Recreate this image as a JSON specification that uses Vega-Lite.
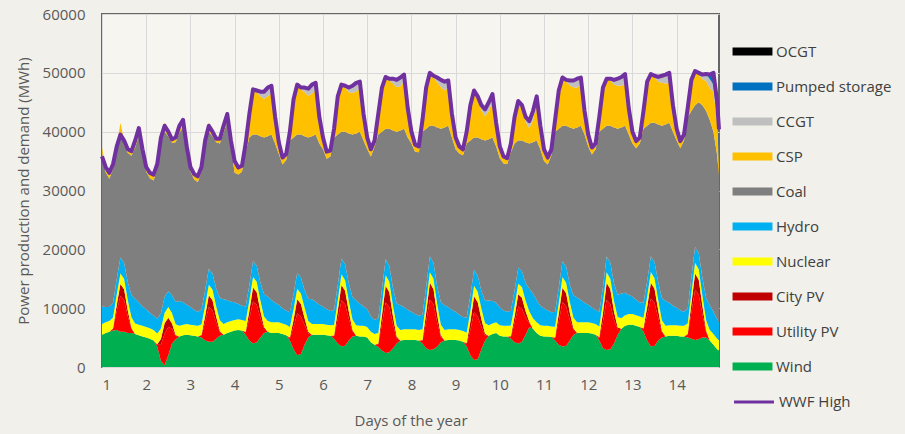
{
  "$schema": "https://vega.github.io/schema/vega-lite/v6.json",
  "width": 617,
  "height": 353,
  "autosize": {"type": "none"},
  "padding": {"left": 102, "top": 14, "right": 186, "bottom": 67},
  "background": "#f1f0ea",
  "config": {
    "font": "Open Sans",
    "view": {"stroke": "#666666", "strokeWidth": 2, "fill": "#f6f5f0"},
    "axis": {
      "labelColor": "#595959",
      "titleColor": "#595959",
      "labelFontSize": 15,
      "titleFontSize": 15,
      "titleFontWeight": "normal",
      "gridColor": "#d9d9d9",
      "gridWidth": 1,
      "ticks": false,
      "domain": false
    },
    "legend": {
      "labelColor": "#404040",
      "labelFontSize": 15,
      "padding": 0,
      "title": null
    }
  },
  "datasets": {
    "gen": [
      {"h":0,"wind":5500,"upv":0,"cpv":0,"nuc":1800,"hyd":3000,"coal":26200,"csp":800,"ccgt":0,"ps":0,"ocgt":0,"dem":35800},
      {"h":2,"wind":5800,"upv":0,"cpv":0,"nuc":1800,"hyd":2600,"coal":22900,"csp":900,"ccgt":0,"ps":0,"ocgt":0,"dem":34000},
      {"h":4,"wind":6000,"upv":0,"cpv":0,"nuc":1800,"hyd":2400,"coal":21800,"csp":1000,"ccgt":0,"ps":0,"ocgt":0,"dem":33000},
      {"h":6,"wind":6200,"upv":300,"cpv":100,"nuc":1800,"hyd":2500,"coal":22800,"csp":800,"ccgt":0,"ps":0,"ocgt":0,"dem":34500},
      {"h":8,"wind":6300,"upv":3200,"cpv":1050,"nuc":1800,"hyd":2600,"coal":21950,"csp":600,"ccgt":0,"ps":0,"ocgt":0,"dem":37500},
      {"h":10,"wind":6000,"upv":6100,"cpv":2000,"nuc":1800,"hyd":2700,"coal":21400,"csp":1500,"ccgt":0,"ps":0,"ocgt":0,"dem":39500},
      {"h":12,"wind":6000,"upv":5400,"cpv":1800,"nuc":1800,"hyd":2700,"coal":20000,"csp":800,"ccgt":0,"ps":0,"ocgt":0,"dem":38500},
      {"h":14,"wind":5800,"upv":2850,"cpv":950,"nuc":1800,"hyd":3000,"coal":22000,"csp":600,"ccgt":0,"ps":0,"ocgt":0,"dem":37000},
      {"h":16,"wind":5800,"upv":640,"cpv":210,"nuc":1800,"hyd":3800,"coal":23650,"csp":800,"ccgt":0,"ps":0,"ocgt":0,"dem":36700},
      {"h":18,"wind":5600,"upv":0,"cpv":0,"nuc":1800,"hyd":4200,"coal":25700,"csp":1200,"ccgt":0,"ps":0,"ocgt":0,"dem":38500},
      {"h":20,"wind":5400,"upv":0,"cpv":0,"nuc":1800,"hyd":3800,"coal":28300,"csp":1000,"ccgt":300,"ps":0,"ocgt":0,"dem":40600},
      {"h":22,"wind":5200,"upv":0,"cpv":0,"nuc":1800,"hyd":3300,"coal":25900,"csp":800,"ccgt":0,"ps":0,"ocgt":0,"dem":37000},

      {"h":24,"wind":5000,"upv":0,"cpv":0,"nuc":1800,"hyd":3000,"coal":23400,"csp":800,"ccgt":0,"ps":0,"ocgt":0,"dem":34000},
      {"h":26,"wind":4800,"upv":0,"cpv":0,"nuc":1800,"hyd":2600,"coal":22900,"csp":900,"ccgt":0,"ps":0,"ocgt":0,"dem":33000},
      {"h":28,"wind":4500,"upv":0,"cpv":0,"nuc":1800,"hyd":2400,"coal":23000,"csp":1000,"ccgt":0,"ps":0,"ocgt":0,"dem":32700},
      {"h":30,"wind":3500,"upv":280,"cpv":100,"nuc":1800,"hyd":2500,"coal":25520,"csp":800,"ccgt":0,"ps":0,"ocgt":0,"dem":34500},
      {"h":32,"wind":1000,"upv":2800,"cpv":950,"nuc":1800,"hyd":2600,"coal":29250,"csp":600,"ccgt":0,"ps":0,"ocgt":0,"dem":39000},
      {"h":34,"wind":300,"upv":5350,"cpv":1780,"nuc":1800,"hyd":2700,"coal":28070,"csp":1500,"ccgt":0,"ps":0,"ocgt":0,"dem":41000},
      {"h":36,"wind":2000,"upv":4780,"cpv":1600,"nuc":1800,"hyd":2700,"coal":26320,"csp":800,"ccgt":0,"ps":0,"ocgt":0,"dem":40000},
      {"h":38,"wind":4000,"upv":2530,"cpv":850,"nuc":1800,"hyd":3000,"coal":25920,"csp":600,"ccgt":0,"ps":0,"ocgt":0,"dem":38700},
      {"h":40,"wind":4700,"upv":560,"cpv":190,"nuc":1800,"hyd":3800,"coal":27150,"csp":800,"ccgt":0,"ps":0,"ocgt":0,"dem":39000},
      {"h":42,"wind":5200,"upv":0,"cpv":0,"nuc":1800,"hyd":4200,"coal":28600,"csp":1200,"ccgt":0,"ps":0,"ocgt":0,"dem":41000},
      {"h":44,"wind":5400,"upv":0,"cpv":0,"nuc":1800,"hyd":3800,"coal":29700,"csp":1000,"ccgt":300,"ps":0,"ocgt":0,"dem":42000},
      {"h":46,"wind":5500,"upv":0,"cpv":0,"nuc":1800,"hyd":3300,"coal":26100,"csp":800,"ccgt":0,"ps":0,"ocgt":0,"dem":37500},

      {"h":48,"wind":5400,"upv":0,"cpv":0,"nuc":1800,"hyd":3000,"coal":23000,"csp":800,"ccgt":0,"ps":0,"ocgt":0,"dem":34000},
      {"h":50,"wind":5300,"upv":0,"cpv":0,"nuc":1800,"hyd":2600,"coal":22200,"csp":900,"ccgt":0,"ps":0,"ocgt":0,"dem":32800},
      {"h":52,"wind":5200,"upv":0,"cpv":0,"nuc":1800,"hyd":2400,"coal":22000,"csp":1000,"ccgt":0,"ps":0,"ocgt":0,"dem":32400},
      {"h":54,"wind":5000,"upv":320,"cpv":100,"nuc":1800,"hyd":2500,"coal":23480,"csp":800,"ccgt":0,"ps":0,"ocgt":0,"dem":34000},
      {"h":56,"wind":4500,"upv":3110,"cpv":1040,"nuc":1800,"hyd":2600,"coal":24850,"csp":600,"ccgt":0,"ps":0,"ocgt":0,"dem":38500},
      {"h":58,"wind":4300,"upv":5920,"cpv":1970,"nuc":1800,"hyd":2700,"coal":23310,"csp":1500,"ccgt":0,"ps":0,"ocgt":0,"dem":41000},
      {"h":60,"wind":4300,"upv":5300,"cpv":1760,"nuc":1800,"hyd":2700,"coal":23340,"csp":800,"ccgt":0,"ps":0,"ocgt":0,"dem":40000},
      {"h":62,"wind":4800,"upv":2800,"cpv":940,"nuc":1800,"hyd":3000,"coal":24860,"csp":600,"ccgt":0,"ps":0,"ocgt":0,"dem":38800},
      {"h":64,"wind":5300,"upv":620,"cpv":210,"nuc":1800,"hyd":3800,"coal":26270,"csp":800,"ccgt":0,"ps":0,"ocgt":0,"dem":38800},
      {"h":66,"wind":5500,"upv":0,"cpv":0,"nuc":1800,"hyd":4200,"coal":28300,"csp":1200,"ccgt":0,"ps":0,"ocgt":0,"dem":41000},
      {"h":68,"wind":5800,"upv":0,"cpv":0,"nuc":1800,"hyd":3800,"coal":30300,"csp":1000,"ccgt":300,"ps":0,"ocgt":0,"dem":43000},
      {"h":70,"wind":6000,"upv":0,"cpv":0,"nuc":1800,"hyd":3300,"coal":26600,"csp":800,"ccgt":0,"ps":0,"ocgt":0,"dem":38500},

      {"h":72,"wind":6200,"upv":0,"cpv":0,"nuc":1800,"hyd":3000,"coal":22000,"csp":2000,"ccgt":0,"ps":0,"ocgt":0,"dem":35000},
      {"h":74,"wind":6300,"upv":0,"cpv":0,"nuc":1800,"hyd":2600,"coal":22000,"csp":1200,"ccgt":0,"ps":0,"ocgt":0,"dem":33900},
      {"h":76,"wind":6200,"upv":0,"cpv":0,"nuc":1800,"hyd":2400,"coal":22800,"csp":1000,"ccgt":0,"ps":0,"ocgt":0,"dem":34200},
      {"h":78,"wind":5500,"upv":380,"cpv":120,"nuc":1800,"hyd":2500,"coal":26200,"csp":1500,"ccgt":0,"ps":0,"ocgt":0,"dem":38000},
      {"h":80,"wind":4500,"upv":3750,"cpv":1250,"nuc":1800,"hyd":2600,"coal":25100,"csp":4000,"ccgt":0,"ps":0,"ocgt":0,"dem":43000},
      {"h":82,"wind":4000,"upv":7130,"cpv":2370,"nuc":1800,"hyd":2700,"coal":21500,"csp":7700,"ccgt":0,"ps":0,"ocgt":0,"dem":47200},
      {"h":84,"wind":4200,"upv":6380,"cpv":2120,"nuc":1800,"hyd":2700,"coal":22300,"csp":7200,"ccgt":300,"ps":0,"ocgt":0,"dem":47000},
      {"h":86,"wind":5000,"upv":3380,"cpv":1120,"nuc":1800,"hyd":3000,"coal":24900,"csp":6800,"ccgt":800,"ps":0,"ocgt":0,"dem":46800},
      {"h":88,"wind":5800,"upv":750,"cpv":250,"nuc":1800,"hyd":3800,"coal":26600,"csp":6600,"ccgt":1200,"ps":0,"ocgt":0,"dem":46800},
      {"h":90,"wind":6000,"upv":0,"cpv":0,"nuc":1800,"hyd":4200,"coal":27200,"csp":6800,"ccgt":1500,"ps":0,"ocgt":0,"dem":47500},
      {"h":92,"wind":5800,"upv":0,"cpv":0,"nuc":1800,"hyd":3800,"coal":28100,"csp":7100,"ccgt":1200,"ps":0,"ocgt":0,"dem":47800},
      {"h":94,"wind":5800,"upv":0,"cpv":0,"nuc":1800,"hyd":3300,"coal":27100,"csp":4200,"ccgt":300,"ps":0,"ocgt":0,"dem":42500},

      {"h":96,"wind":5800,"upv":0,"cpv":0,"nuc":1800,"hyd":3000,"coal":25600,"csp":2000,"ccgt":0,"ps":0,"ocgt":0,"dem":38200},
      {"h":98,"wind":5600,"upv":0,"cpv":0,"nuc":1800,"hyd":2600,"coal":24400,"csp":1200,"ccgt":0,"ps":0,"ocgt":0,"dem":35600},
      {"h":100,"wind":5400,"upv":0,"cpv":0,"nuc":1800,"hyd":2400,"coal":25600,"csp":1000,"ccgt":0,"ps":0,"ocgt":0,"dem":36200},
      {"h":102,"wind":4500,"upv":380,"cpv":120,"nuc":1800,"hyd":2500,"coal":29200,"csp":1500,"ccgt":0,"ps":0,"ocgt":0,"dem":40000},
      {"h":104,"wind":3000,"upv":3750,"cpv":1250,"nuc":1800,"hyd":2600,"coal":26600,"csp":6500,"ccgt":0,"ps":0,"ocgt":0,"dem":45500},
      {"h":106,"wind":2000,"upv":7130,"cpv":2370,"nuc":1800,"hyd":2700,"coal":23500,"csp":8500,"ccgt":0,"ps":0,"ocgt":0,"dem":48000},
      {"h":108,"wind":2200,"upv":6380,"cpv":2120,"nuc":1800,"hyd":2700,"coal":24300,"csp":7700,"ccgt":300,"ps":0,"ocgt":0,"dem":47500},
      {"h":110,"wind":3800,"upv":3380,"cpv":1120,"nuc":1800,"hyd":3000,"coal":26100,"csp":7500,"ccgt":800,"ps":0,"ocgt":0,"dem":47500},
      {"h":112,"wind":5000,"upv":750,"cpv":250,"nuc":1800,"hyd":3800,"coal":27400,"csp":7100,"ccgt":1200,"ps":0,"ocgt":0,"dem":47300},
      {"h":114,"wind":5500,"upv":0,"cpv":0,"nuc":1800,"hyd":4200,"coal":27700,"csp":7300,"ccgt":1500,"ps":0,"ocgt":0,"dem":48000},
      {"h":116,"wind":5500,"upv":0,"cpv":0,"nuc":1800,"hyd":3800,"coal":28400,"csp":7600,"ccgt":1200,"ps":0,"ocgt":0,"dem":48300},
      {"h":118,"wind":5500,"upv":0,"cpv":0,"nuc":1800,"hyd":3300,"coal":27400,"csp":4200,"ccgt":300,"ps":0,"ocgt":0,"dem":42500},

      {"h":120,"wind":5500,"upv":0,"cpv":0,"nuc":1800,"hyd":3000,"coal":26700,"csp":2000,"ccgt":0,"ps":0,"ocgt":0,"dem":39000},
      {"h":122,"wind":5400,"upv":0,"cpv":0,"nuc":1800,"hyd":2600,"coal":25600,"csp":1200,"ccgt":0,"ps":0,"ocgt":0,"dem":36600},
      {"h":124,"wind":5300,"upv":0,"cpv":0,"nuc":1800,"hyd":2400,"coal":26300,"csp":1000,"ccgt":0,"ps":0,"ocgt":0,"dem":36800},
      {"h":126,"wind":4800,"upv":410,"cpv":140,"nuc":1800,"hyd":2500,"coal":29350,"csp":1500,"ccgt":0,"ps":0,"ocgt":0,"dem":40500},
      {"h":128,"wind":4000,"upv":4130,"cpv":1370,"nuc":1800,"hyd":2600,"coal":25600,"csp":6500,"ccgt":0,"ps":0,"ocgt":0,"dem":46000},
      {"h":130,"wind":3500,"upv":7840,"cpv":2610,"nuc":1800,"hyd":2700,"coal":21550,"csp":8000,"ccgt":0,"ps":0,"ocgt":0,"dem":48000},
      {"h":132,"wind":3600,"upv":7010,"cpv":2340,"nuc":1800,"hyd":2700,"coal":22550,"csp":7500,"ccgt":300,"ps":0,"ocgt":0,"dem":47800},
      {"h":134,"wind":4500,"upv":3710,"cpv":1240,"nuc":1800,"hyd":3000,"coal":25450,"csp":7000,"ccgt":800,"ps":0,"ocgt":0,"dem":47500},
      {"h":136,"wind":5200,"upv":830,"cpv":270,"nuc":1800,"hyd":3800,"coal":27600,"csp":7100,"ccgt":1200,"ps":0,"ocgt":0,"dem":47800},
      {"h":138,"wind":5300,"upv":0,"cpv":0,"nuc":1800,"hyd":4200,"coal":28400,"csp":7100,"ccgt":1500,"ps":0,"ocgt":0,"dem":48300},
      {"h":140,"wind":5200,"upv":0,"cpv":0,"nuc":1800,"hyd":3800,"coal":29200,"csp":7300,"ccgt":1200,"ps":0,"ocgt":0,"dem":48500},
      {"h":142,"wind":5200,"upv":0,"cpv":0,"nuc":1800,"hyd":3300,"coal":28200,"csp":4200,"ccgt":300,"ps":0,"ocgt":0,"dem":43000},

      {"h":144,"wind":5000,"upv":0,"cpv":0,"nuc":1800,"hyd":3000,"coal":27200,"csp":2000,"ccgt":0,"ps":0,"ocgt":0,"dem":39000},
      {"h":146,"wind":4200,"upv":0,"cpv":0,"nuc":1800,"hyd":2600,"coal":27200,"csp":1200,"ccgt":0,"ps":0,"ocgt":0,"dem":37000},
      {"h":148,"wind":3800,"upv":0,"cpv":0,"nuc":1800,"hyd":2400,"coal":29500,"csp":1000,"ccgt":0,"ps":0,"ocgt":0,"dem":38500},
      {"h":150,"wind":3400,"upv":450,"cpv":150,"nuc":1800,"hyd":2500,"coal":31200,"csp":3500,"ccgt":0,"ps":0,"ocgt":0,"dem":43000},
      {"h":152,"wind":2800,"upv":4500,"cpv":1500,"nuc":1800,"hyd":2600,"coal":26800,"csp":7500,"ccgt":0,"ps":0,"ocgt":0,"dem":47500},
      {"h":154,"wind":2400,"upv":8550,"cpv":2850,"nuc":1800,"hyd":2700,"coal":22200,"csp":8800,"ccgt":0,"ps":0,"ocgt":0,"dem":49300},
      {"h":156,"wind":2500,"upv":7650,"cpv":2550,"nuc":1800,"hyd":2700,"coal":23300,"csp":8200,"ccgt":300,"ps":0,"ocgt":0,"dem":49000},
      {"h":158,"wind":3200,"upv":4050,"cpv":1350,"nuc":1800,"hyd":3000,"coal":26800,"csp":8000,"ccgt":800,"ps":0,"ocgt":0,"dem":49000},
      {"h":160,"wind":4000,"upv":900,"cpv":300,"nuc":1800,"hyd":3800,"coal":29200,"csp":7600,"ccgt":1200,"ps":0,"ocgt":0,"dem":48800},
      {"h":162,"wind":4500,"upv":0,"cpv":0,"nuc":1800,"hyd":4200,"coal":29700,"csp":7500,"ccgt":1500,"ps":0,"ocgt":0,"dem":49200},
      {"h":164,"wind":4600,"upv":0,"cpv":0,"nuc":1800,"hyd":3800,"coal":30300,"csp":8000,"ccgt":1200,"ps":0,"ocgt":0,"dem":49700},
      {"h":166,"wind":4600,"upv":0,"cpv":0,"nuc":1800,"hyd":3300,"coal":29300,"csp":4700,"ccgt":300,"ps":0,"ocgt":0,"dem":44000},

      {"h":168,"wind":4600,"upv":0,"cpv":0,"nuc":1800,"hyd":3000,"coal":28600,"csp":2000,"ccgt":0,"ps":0,"ocgt":0,"dem":40000},
      {"h":170,"wind":4600,"upv":0,"cpv":0,"nuc":1800,"hyd":2600,"coal":27600,"csp":1200,"ccgt":0,"ps":0,"ocgt":0,"dem":37800},
      {"h":172,"wind":4500,"upv":0,"cpv":0,"nuc":1800,"hyd":2400,"coal":27800,"csp":1000,"ccgt":0,"ps":0,"ocgt":0,"dem":37500},
      {"h":174,"wind":4000,"upv":450,"cpv":150,"nuc":1800,"hyd":2500,"coal":31100,"csp":2000,"ccgt":0,"ps":0,"ocgt":0,"dem":42000},
      {"h":176,"wind":3200,"upv":4500,"cpv":1500,"nuc":1800,"hyd":2600,"coal":26900,"csp":7000,"ccgt":0,"ps":0,"ocgt":0,"dem":47500},
      {"h":178,"wind":2900,"upv":8550,"cpv":2850,"nuc":1800,"hyd":2700,"coal":22200,"csp":9000,"ccgt":0,"ps":0,"ocgt":0,"dem":50000},
      {"h":180,"wind":3000,"upv":7650,"cpv":2550,"nuc":1800,"hyd":2700,"coal":23300,"csp":8200,"ccgt":300,"ps":0,"ocgt":0,"dem":49500},
      {"h":182,"wind":3500,"upv":4050,"cpv":1350,"nuc":1800,"hyd":3000,"coal":27000,"csp":7700,"ccgt":800,"ps":0,"ocgt":0,"dem":49200},
      {"h":184,"wind":4200,"upv":900,"cpv":300,"nuc":1800,"hyd":3800,"coal":29500,"csp":7100,"ccgt":1200,"ps":0,"ocgt":0,"dem":48800},
      {"h":186,"wind":4500,"upv":0,"cpv":0,"nuc":1800,"hyd":4200,"coal":30200,"csp":6300,"ccgt":1500,"ps":0,"ocgt":0,"dem":48500},
      {"h":188,"wind":4600,"upv":0,"cpv":0,"nuc":1800,"hyd":3800,"coal":30800,"csp":6500,"ccgt":1200,"ps":0,"ocgt":0,"dem":48700},
      {"h":190,"wind":4600,"upv":0,"cpv":0,"nuc":1800,"hyd":3300,"coal":29300,"csp":3700,"ccgt":300,"ps":0,"ocgt":0,"dem":43000},

      {"h":192,"wind":4600,"upv":0,"cpv":0,"nuc":1800,"hyd":3000,"coal":27600,"csp":2000,"ccgt":0,"ps":0,"ocgt":0,"dem":39000},
      {"h":194,"wind":4500,"upv":0,"cpv":0,"nuc":1800,"hyd":2600,"coal":27400,"csp":1200,"ccgt":0,"ps":0,"ocgt":0,"dem":37500},
      {"h":196,"wind":4300,"upv":0,"cpv":0,"nuc":1800,"hyd":2400,"coal":27500,"csp":1000,"ccgt":0,"ps":0,"ocgt":0,"dem":37000},
      {"h":198,"wind":3500,"upv":430,"cpv":140,"nuc":1800,"hyd":2500,"coal":29630,"csp":2000,"ccgt":0,"ps":0,"ocgt":0,"dem":40000},
      {"h":200,"wind":2000,"upv":4280,"cpv":1420,"nuc":1800,"hyd":2600,"coal":26400,"csp":6000,"ccgt":0,"ps":0,"ocgt":0,"dem":44500},
      {"h":202,"wind":1200,"upv":8120,"cpv":2710,"nuc":1800,"hyd":2700,"coal":22470,"csp":8000,"ccgt":0,"ps":0,"ocgt":0,"dem":47000},
      {"h":204,"wind":1300,"upv":7270,"cpv":2420,"nuc":1800,"hyd":2700,"coal":23510,"csp":6700,"ccgt":300,"ps":0,"ocgt":0,"dem":46000},
      {"h":206,"wind":3000,"upv":3850,"cpv":1280,"nuc":1800,"hyd":3000,"coal":25770,"csp":5000,"ccgt":800,"ps":0,"ocgt":0,"dem":44500},
      {"h":208,"wind":4500,"upv":860,"cpv":280,"nuc":1800,"hyd":3800,"coal":27260,"csp":4100,"ccgt":1200,"ps":0,"ocgt":0,"dem":43800},
      {"h":210,"wind":5300,"upv":0,"cpv":0,"nuc":1800,"hyd":4200,"coal":27400,"csp":4800,"ccgt":1500,"ps":0,"ocgt":0,"dem":45000},
      {"h":212,"wind":5600,"upv":0,"cpv":0,"nuc":1800,"hyd":3800,"coal":27800,"csp":6200,"ccgt":1200,"ps":0,"ocgt":0,"dem":46400},
      {"h":214,"wind":5800,"upv":0,"cpv":0,"nuc":1800,"hyd":3300,"coal":26600,"csp":3700,"ccgt":300,"ps":0,"ocgt":0,"dem":41500},

      {"h":216,"wind":5300,"upv":0,"cpv":0,"nuc":1800,"hyd":3000,"coal":25400,"csp":2000,"ccgt":0,"ps":0,"ocgt":0,"dem":37500},
      {"h":218,"wind":5200,"upv":0,"cpv":0,"nuc":1800,"hyd":2600,"coal":25000,"csp":1200,"ccgt":0,"ps":0,"ocgt":0,"dem":35800},
      {"h":220,"wind":5200,"upv":0,"cpv":0,"nuc":1800,"hyd":2400,"coal":25100,"csp":1000,"ccgt":0,"ps":0,"ocgt":0,"dem":35500},
      {"h":222,"wind":4800,"upv":330,"cpv":110,"nuc":1800,"hyd":2500,"coal":26960,"csp":1500,"ccgt":0,"ps":0,"ocgt":0,"dem":38000},
      {"h":224,"wind":4200,"upv":3300,"cpv":1100,"nuc":1800,"hyd":2600,"coal":25000,"csp":4500,"ccgt":0,"ps":0,"ocgt":0,"dem":42500},
      {"h":226,"wind":4000,"upv":6270,"cpv":2090,"nuc":1800,"hyd":2700,"coal":21640,"csp":6700,"ccgt":0,"ps":0,"ocgt":0,"dem":45200},
      {"h":228,"wind":4300,"upv":5610,"cpv":1870,"nuc":1800,"hyd":2700,"coal":22220,"csp":5700,"ccgt":300,"ps":0,"ocgt":0,"dem":44500},
      {"h":230,"wind":5500,"upv":2970,"cpv":990,"nuc":1800,"hyd":3000,"coal":23940,"csp":3500,"ccgt":800,"ps":0,"ocgt":0,"dem":42500},
      {"h":232,"wind":6800,"upv":660,"cpv":220,"nuc":1800,"hyd":3800,"coal":24720,"csp":2600,"ccgt":1200,"ps":0,"ocgt":0,"dem":41800},
      {"h":234,"wind":6500,"upv":0,"cpv":0,"nuc":1800,"hyd":4200,"coal":25700,"csp":3800,"ccgt":1500,"ps":0,"ocgt":0,"dem":43500},
      {"h":236,"wind":5800,"upv":0,"cpv":0,"nuc":1800,"hyd":3800,"coal":27100,"csp":6300,"ccgt":1200,"ps":0,"ocgt":0,"dem":46000},
      {"h":238,"wind":5300,"upv":0,"cpv":0,"nuc":1800,"hyd":3300,"coal":26600,"csp":3700,"ccgt":300,"ps":0,"ocgt":0,"dem":41000},

      {"h":240,"wind":5200,"upv":0,"cpv":0,"nuc":1800,"hyd":3000,"coal":25000,"csp":2000,"ccgt":0,"ps":0,"ocgt":0,"dem":37000},
      {"h":242,"wind":5200,"upv":0,"cpv":0,"nuc":1800,"hyd":2600,"coal":24800,"csp":1200,"ccgt":0,"ps":0,"ocgt":0,"dem":35600},
      {"h":244,"wind":5100,"upv":0,"cpv":0,"nuc":1800,"hyd":2400,"coal":26700,"csp":1000,"ccgt":0,"ps":0,"ocgt":0,"dem":37000},
      {"h":246,"wind":4500,"upv":400,"cpv":130,"nuc":1800,"hyd":2500,"coal":30670,"csp":2000,"ccgt":0,"ps":0,"ocgt":0,"dem":42000},
      {"h":248,"wind":3800,"upv":3940,"cpv":1310,"nuc":1800,"hyd":2600,"coal":27050,"csp":6500,"ccgt":0,"ps":0,"ocgt":0,"dem":47000},
      {"h":250,"wind":3500,"upv":7490,"cpv":2490,"nuc":1800,"hyd":2700,"coal":23020,"csp":8200,"ccgt":0,"ps":0,"ocgt":0,"dem":49200},
      {"h":252,"wind":3600,"upv":6700,"cpv":2230,"nuc":1800,"hyd":2700,"coal":23970,"csp":7500,"ccgt":300,"ps":0,"ocgt":0,"dem":48800},
      {"h":254,"wind":4500,"upv":3550,"cpv":1180,"nuc":1800,"hyd":3000,"coal":26670,"csp":7200,"ccgt":800,"ps":0,"ocgt":0,"dem":48700},
      {"h":256,"wind":5500,"upv":790,"cpv":260,"nuc":1800,"hyd":3800,"coal":28350,"csp":7000,"ccgt":1200,"ps":0,"ocgt":0,"dem":48700},
      {"h":258,"wind":5800,"upv":0,"cpv":0,"nuc":1800,"hyd":4200,"coal":28900,"csp":6800,"ccgt":1500,"ps":0,"ocgt":0,"dem":49000},
      {"h":260,"wind":5800,"upv":0,"cpv":0,"nuc":1800,"hyd":3800,"coal":29600,"csp":7000,"ccgt":1200,"ps":0,"ocgt":0,"dem":49200},
      {"h":262,"wind":5800,"upv":0,"cpv":0,"nuc":1800,"hyd":3300,"coal":28600,"csp":3700,"ccgt":300,"ps":0,"ocgt":0,"dem":43500},

      {"h":264,"wind":5800,"upv":0,"cpv":0,"nuc":1800,"hyd":3000,"coal":26900,"csp":2000,"ccgt":0,"ps":0,"ocgt":0,"dem":39500},
      {"h":266,"wind":5700,"upv":0,"cpv":0,"nuc":1800,"hyd":2600,"coal":26000,"csp":1200,"ccgt":0,"ps":0,"ocgt":0,"dem":37300},
      {"h":268,"wind":5500,"upv":0,"cpv":0,"nuc":1800,"hyd":2400,"coal":27300,"csp":1000,"ccgt":0,"ps":0,"ocgt":0,"dem":38000},
      {"h":270,"wind":4500,"upv":450,"cpv":150,"nuc":1800,"hyd":2500,"coal":30600,"csp":2500,"ccgt":0,"ps":0,"ocgt":0,"dem":42500},
      {"h":272,"wind":3200,"upv":4500,"cpv":1500,"nuc":1800,"hyd":2600,"coal":26900,"csp":7000,"ccgt":0,"ps":0,"ocgt":0,"dem":47500},
      {"h":274,"wind":2900,"upv":8550,"cpv":2850,"nuc":1800,"hyd":2700,"coal":22200,"csp":8000,"ccgt":0,"ps":0,"ocgt":0,"dem":49000},
      {"h":276,"wind":3000,"upv":7650,"cpv":2550,"nuc":1800,"hyd":2700,"coal":23300,"csp":7700,"ccgt":300,"ps":0,"ocgt":0,"dem":49000},
      {"h":278,"wind":4000,"upv":4050,"cpv":1350,"nuc":1800,"hyd":3000,"coal":26500,"csp":7300,"ccgt":800,"ps":0,"ocgt":0,"dem":48800},
      {"h":280,"wind":5500,"upv":900,"cpv":300,"nuc":1800,"hyd":3800,"coal":28200,"csp":7300,"ccgt":1200,"ps":0,"ocgt":0,"dem":49000},
      {"h":282,"wind":6500,"upv":0,"cpv":0,"nuc":1800,"hyd":4200,"coal":28200,"csp":7100,"ccgt":1500,"ps":0,"ocgt":0,"dem":49300},
      {"h":284,"wind":7000,"upv":0,"cpv":0,"nuc":1800,"hyd":3800,"coal":28400,"csp":7100,"ccgt":1200,"ps":500,"ocgt":0,"dem":49800},
      {"h":286,"wind":7200,"upv":0,"cpv":0,"nuc":1800,"hyd":3300,"coal":27200,"csp":4200,"ccgt":300,"ps":0,"ocgt":0,"dem":44000},

      {"h":288,"wind":7200,"upv":0,"cpv":0,"nuc":1800,"hyd":3000,"coal":26000,"csp":2000,"ccgt":0,"ps":0,"ocgt":0,"dem":40000},
      {"h":290,"wind":7000,"upv":0,"cpv":0,"nuc":1800,"hyd":2600,"coal":25800,"csp":1200,"ccgt":0,"ps":0,"ocgt":0,"dem":38400},
      {"h":292,"wind":6800,"upv":0,"cpv":0,"nuc":1800,"hyd":2400,"coal":27000,"csp":1000,"ccgt":0,"ps":0,"ocgt":0,"dem":39000},
      {"h":294,"wind":6000,"upv":430,"cpv":140,"nuc":1800,"hyd":2500,"coal":29630,"csp":3000,"ccgt":0,"ps":0,"ocgt":0,"dem":43500},
      {"h":296,"wind":4500,"upv":4280,"cpv":1420,"nuc":1800,"hyd":2600,"coal":26400,"csp":7500,"ccgt":0,"ps":0,"ocgt":0,"dem":48500},
      {"h":298,"wind":3500,"upv":8120,"cpv":2710,"nuc":1800,"hyd":2700,"coal":22670,"csp":8300,"ccgt":0,"ps":0,"ocgt":0,"dem":49800},
      {"h":300,"wind":3600,"upv":7270,"cpv":2420,"nuc":1800,"hyd":2700,"coal":23710,"csp":7700,"ccgt":300,"ps":0,"ocgt":0,"dem":49500},
      {"h":302,"wind":4500,"upv":3850,"cpv":1280,"nuc":1800,"hyd":3000,"coal":26770,"csp":7300,"ccgt":800,"ps":0,"ocgt":0,"dem":49300},
      {"h":304,"wind":5000,"upv":860,"cpv":280,"nuc":1800,"hyd":3800,"coal":29260,"csp":7300,"ccgt":1200,"ps":0,"ocgt":0,"dem":49500},
      {"h":306,"wind":5200,"upv":0,"cpv":0,"nuc":1800,"hyd":4200,"coal":30000,"csp":7000,"ccgt":1500,"ps":0,"ocgt":0,"dem":49700},
      {"h":308,"wind":5300,"upv":0,"cpv":0,"nuc":1800,"hyd":3800,"coal":30600,"csp":6800,"ccgt":1200,"ps":500,"ocgt":0,"dem":50000},
      {"h":310,"wind":5300,"upv":0,"cpv":0,"nuc":1800,"hyd":3300,"coal":29600,"csp":4200,"ccgt":300,"ps":0,"ocgt":0,"dem":44500},

      {"h":312,"wind":5300,"upv":0,"cpv":0,"nuc":1800,"hyd":3000,"coal":28400,"csp":2000,"ccgt":0,"ps":0,"ocgt":0,"dem":40500},
      {"h":314,"wind":5200,"upv":0,"cpv":0,"nuc":1800,"hyd":2600,"coal":27600,"csp":1200,"ccgt":0,"ps":0,"ocgt":0,"dem":38400},
      {"h":316,"wind":5200,"upv":0,"cpv":0,"nuc":1800,"hyd":2400,"coal":29100,"csp":1000,"ccgt":0,"ps":0,"ocgt":0,"dem":39500},
      {"h":318,"wind":5000,"upv":450,"cpv":150,"nuc":1800,"hyd":2500,"coal":32600,"csp":1500,"ccgt":0,"ps":0,"ocgt":0,"dem":44000},
      {"h":320,"wind":4800,"upv":4460,"cpv":1490,"nuc":1800,"hyd":2600,"coal":28350,"csp":5300,"ccgt":0,"ps":0,"ocgt":0,"dem":48800},
      {"h":322,"wind":4600,"upv":8480,"cpv":2820,"nuc":1800,"hyd":2700,"coal":24100,"csp":5800,"ccgt":0,"ps":0,"ocgt":0,"dem":50300},
      {"h":324,"wind":4700,"upv":7590,"cpv":2530,"nuc":1800,"hyd":2700,"coal":25680,"csp":4700,"ccgt":300,"ps":0,"ocgt":0,"dem":50000},
      {"h":326,"wind":5000,"upv":4020,"cpv":1340,"nuc":1800,"hyd":3000,"coal":29340,"csp":4400,"ccgt":800,"ps":0,"ocgt":0,"dem":49700},
      {"h":328,"wind":5000,"upv":890,"cpv":300,"nuc":1800,"hyd":3800,"coal":31710,"csp":5100,"ccgt":1200,"ps":0,"ocgt":0,"dem":49800},
      {"h":330,"wind":4500,"upv":0,"cpv":0,"nuc":1800,"hyd":4200,"coal":31500,"csp":5400,"ccgt":1500,"ps":800,"ocgt":0,"dem":49700},
      {"h":332,"wind":3800,"upv":0,"cpv":0,"nuc":1800,"hyd":3800,"coal":30600,"csp":6800,"ccgt":1200,"ps":2000,"ocgt":0,"dem":50000},
      {"h":334,"wind":3000,"upv":0,"cpv":0,"nuc":1800,"hyd":3300,"coal":27900,"csp":5700,"ccgt":800,"ps":2500,"ocgt":0,"dem":45000},
      {"h":335,"wind":2800,"upv":0,"cpv":0,"nuc":1800,"hyd":3000,"coal":24900,"csp":1500,"ccgt":300,"ps":200,"ocgt":0,"dem":40400}
    ]
  },
  "layer": [
    {
      "data": {"name": "gen"},
      "transform": [
        {"fold": ["wind", "upv", "cpv", "nuc", "hyd", "coal", "csp", "ccgt", "ps", "ocgt"], "as": ["src", "mwh"]},
        {
          "lookup": "src",
          "from": {
            "data": {
              "values": [
                {"src": "wind", "source": "Wind", "k": 0},
                {"src": "upv", "source": "Utility PV", "k": 1},
                {"src": "cpv", "source": "City PV", "k": 2},
                {"src": "nuc", "source": "Nuclear", "k": 3},
                {"src": "hyd", "source": "Hydro", "k": 4},
                {"src": "coal", "source": "Coal", "k": 5},
                {"src": "csp", "source": "CSP", "k": 6},
                {"src": "ccgt", "source": "CCGT", "k": 7},
                {"src": "ps", "source": "Pumped storage", "k": 8},
                {"src": "ocgt", "source": "OCGT", "k": 9}
              ]
            },
            "key": "src",
            "fields": ["source", "k"]
          }
        }
      ],
      "mark": {"type": "area", "interpolate": "linear"},
      "encoding": {
        "x": {
          "field": "h",
          "type": "quantitative",
          "scale": {"domain": [0, 335], "nice": false, "zero": false},
          "axis": {
            "title": "Days of the year",
            "values": [0, 24, 48, 72, 96, 120, 144, 168, 192, 216, 240, 264, 288, 312],
            "labelExpr": "format(datum.value / 24 + 1, 'd')",
            "labelPadding": 10,
            "titlePadding": 21,
            "grid": true
          }
        },
        "y": {
          "field": "mwh",
          "type": "quantitative",
          "stack": "zero",
          "scale": {"domain": [0, 60000], "nice": false},
          "axis": {
            "title": "Power production and demand (MWh)",
            "values": [0, 10000, 20000, 30000, 40000, 50000, 60000],
            "format": "d",
            "labelPadding": 17,
            "titlePadding": 11,
            "grid": true
          }
        },
        "color": {
          "field": "source",
          "type": "nominal",
          "scale": {
            "domain": ["OCGT", "Pumped storage", "CCGT", "CSP", "Coal", "Hydro", "Nuclear", "City PV", "Utility PV", "Wind"],
            "range": ["#000000", "#0070c0", "#bfbfbf", "#ffc000", "#7f7f7f", "#00b0f0", "#ffff00", "#c00000", "#ff0000", "#00b050"]
          },
          "legend": {
            "orient": "none",
            "legendX": 633,
            "legendY": 20,
            "symbolType": "M-1.14,-0.23H1.14V0.23H-1.14Z",
            "symbolSize": 1225,
            "symbolStrokeWidth": 0,
            "symbolOpacity": 1,
            "labelOffset": 6,
            "rowPadding": 9
          }
        },
        "order": {"field": "k", "type": "quantitative", "sort": "ascending"}
      }
    },
    {
      "data": {"name": "gen"},
      "mark": {"type": "line", "strokeWidth": 4, "strokeJoin": "round"},
      "encoding": {
        "x": {"field": "h", "type": "quantitative"},
        "y": {"field": "dem", "type": "quantitative", "title": "Power production and demand (MWh)"},
        "stroke": {
          "datum": "WWF High",
          "type": "nominal",
          "scale": {"domain": ["WWF High"], "range": ["#7030a0"]},
          "legend": {
            "orient": "none",
            "legendX": 633,
            "legendY": 369,
            "symbolType": "M-1.14,0H1.14",
            "symbolSize": 1225,
            "symbolStrokeWidth": 3,
            "labelOffset": 6
          }
        }
      }
    }
  ]
}
